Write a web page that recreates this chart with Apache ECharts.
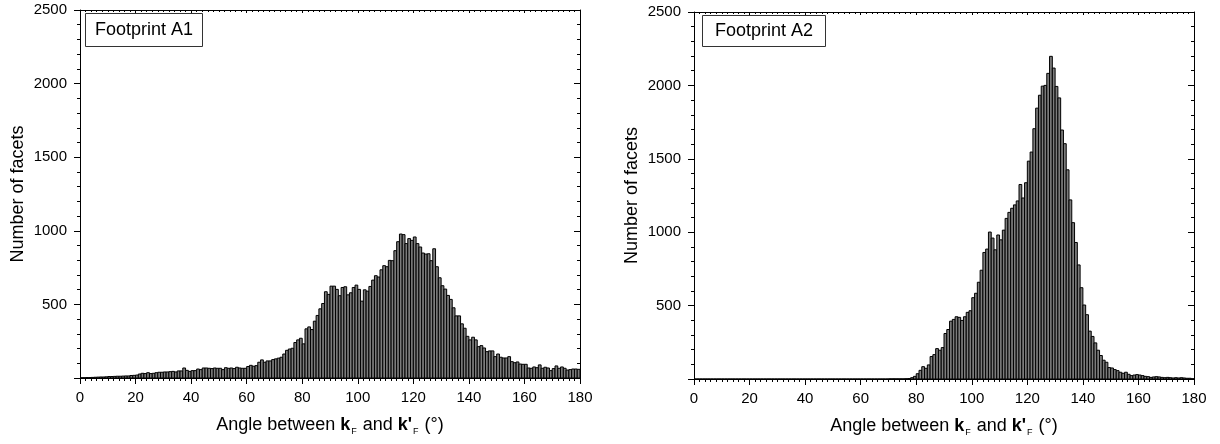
<!DOCTYPE html>
<html>
<head>
<meta charset="utf-8">
<script src="https://cdn.jsdelivr.net/npm/echarts@6/dist/echarts.min.js"></script>
<style>
html,body{margin:0;padding:0;background:#fff;}
#chart{width:1220px;height:444px;}
</style>
</head>
<body>
<div id="chart"></div>
<script>
// Bin start angles (degrees), 1-degree bins from 0 to 179
const binStarts = Array.from({length: 180}, (_, i) => i);

// Footprint A1 counts per 1° bin
const countsA1 = [
  2, 2, 3, 3, 4, 5, 6, 7, 7, 8,
  10, 10, 11, 12, 12, 13, 14, 14, 17, 18,
  20, 27, 32, 30, 36, 30, 32, 36, 39, 39,
  41, 41, 43, 45, 41, 48, 48, 68, 52, 45,
  50, 50, 61, 57, 68, 68, 66, 64, 68, 66,
  66, 57, 70, 66, 68, 64, 73, 68, 66, 66,
  78, 86, 80, 84, 107, 123, 107, 116, 116, 125,
  130, 135, 141, 163, 188, 197, 202, 241, 259, 270,
  232, 334, 347, 329, 386, 425, 470, 506, 586, 568,
  624, 624, 602, 559, 615, 620, 565, 579, 615, 631,
  602, 522, 599, 590, 622, 665, 695, 686, 735, 763,
  756, 799, 797, 865, 926, 978, 974, 913, 947, 935,
  958, 913, 890, 849, 842, 844, 797, 878, 756, 681,
  627, 604, 561, 534, 477, 422, 422, 368, 338, 283,
  259, 277, 259, 213, 220, 204, 179, 184, 184, 145,
  163, 141, 136, 136, 145, 111, 104, 109, 95, 93,
  93, 68, 66, 75, 70, 89, 66, 73, 68, 50,
  64, 82, 66, 75, 66, 54, 57, 61, 61, 59
];

// Footprint A2 counts per 1° bin
const countsA2 = [
  0, 0, 0, 0, 0, 0, 0, 0, 0, 0,
  0, 0, 0, 0, 0, 0, 0, 0, 0, 0,
  0, 0, 0, 0, 0, 0, 0, 0, 0, 0,
  0, 0, 0, 0, 0, 0, 0, 0, 0, 0,
  0, 0, 0, 0, 0, 0, 0, 0, 0, 0,
  0, 0, 0, 0, 0, 0, 0, 0, 0, 0,
  0, 0, 0, 0, 0, 0, 0, 0, 0, 0,
  1, 1, 1, 1, 1, 1, 2, 3, 9, 18,
  36, 59, 84, 73, 96, 153, 166, 207, 196, 214,
  310, 337, 394, 406, 424, 420, 399, 424, 454, 465,
  554, 584, 659, 741, 862, 885, 1001, 960, 880, 981,
  948, 1014, 1094, 1135, 1163, 1186, 1213, 1325, 1233, 1337,
  1484, 1546, 1705, 1845, 1933, 1995, 2000, 2082, 2198, 2118,
  1993, 1915, 1696, 1603, 1425, 1220, 1065, 930, 777, 622,
  504, 438, 326, 290, 246, 196, 160, 128, 114, 78,
  75, 64, 57, 46, 39, 46, 32, 23, 27, 30,
  27, 23, 18, 16, 11, 14, 16, 14, 11, 9,
  11, 9, 7, 9, 7, 9, 7, 5, 5, 2
];

const panelLabels = ['Footprint A1', 'Footprint A2'];
const xTickValues = [0, 20, 40, 60, 80, 100, 120, 140, 160, 180];
const yTickValues = [500, 1000, 1500, 2000, 2500];
const binWidth = 1;

const FONT = 'Arial, "Liberation Sans", Helvetica, sans-serif';

const chart = echarts.init(document.getElementById('chart'), null, {renderer: 'canvas'});

function renderBin(params, api) {
  const x0 = api.value(0);
  const v = api.value(1);
  const pBase = api.coord([x0, 0]);
  const pTop = api.coord([x0 + binWidth, v]);
  return {
    type: 'rect',
    shape: {x: pBase[0], y: pTop[1], width: pTop[0] - pBase[0], height: pBase[1] - pTop[1]},
    style: {fill: '#7c7c7c', stroke: '#000', lineWidth: 1}
  };
}

const xName = '{n|Angle between }{b|k}{s|F}{n| and }{b|k\'}{s|F}{n| (°)}';
const nameRich = {
  n: {fontSize: 18, fontFamily: FONT, color: '#000', lineHeight: 22, verticalAlign: 'middle'},
  b: {fontSize: 18, fontFamily: FONT, color: '#000', fontWeight: 'bold', lineHeight: 22, verticalAlign: 'middle'},
  s: {fontSize: 9, fontFamily: FONT, color: '#000', lineHeight: 9, verticalAlign: 'bottom', padding: [0, 1, 0, 1]}
};

const grids = [
  {left: 80, right: 640, top: 10, bottom: 66},
  {left: 694, right: 26, top: 12, bottom: 65}
];

const xAxes = [], yAxes = [], series = [], titles = [];
const boxCfg = [
  {left: 85, top: 13, padding: [8, 10]},
  {left: 702, top: 15, padding: [7, 13]}
];

[countsA1, countsA2].forEach((counts, gi) => {
  const xBase = {
    type: 'value', gridIndex: gi, min: xTickValues[0], max: xTickValues[xTickValues.length - 1],
    interval: 20, splitLine: {show: false},
    axisLine: {show: true, onZero: false, lineStyle: {color: '#000', width: 1}}
  };
  xAxes.push(Object.assign({}, xBase, {
    position: 'bottom',
    axisTick: {show: true, inside: false, length: 6, lineStyle: {color: '#000'}},
    minorTick: {show: true, splitNumber: 10, length: 3, lineStyle: {color: '#000'}},
    axisLabel: {show: true, color: '#000', fontSize: 15, fontFamily: FONT, margin: 12},
    name: xName, nameLocation: 'middle', nameGap: 36,
    nameTextStyle: {rich: nameRich}
  }));
  xAxes.push(Object.assign({}, xBase, {
    position: 'top',
    axisTick: {show: true, inside: true, length: 3, lineStyle: {color: '#000'}},
    minorTick: {show: true, splitNumber: 10, length: 2, lineStyle: {color: '#000'}},
    axisLabel: {show: false}
  }));
  const yBase = {
    type: 'value', gridIndex: gi, min: 0, max: yTickValues[yTickValues.length - 1], interval: 500,
    splitLine: {show: false},
    axisLine: {show: true, onZero: false, lineStyle: {color: '#000', width: 1}}
  };
  yAxes.push(Object.assign({}, yBase, {
    position: 'left',
    axisTick: {show: true, inside: false, length: 6, lineStyle: {color: '#000'}},
    minorTick: {show: true, splitNumber: 5, length: 3, lineStyle: {color: '#000'}},
    axisLabel: {show: true, color: '#000', fontSize: 15, fontFamily: FONT, margin: 13,
      formatter: v => (yTickValues.indexOf(v) >= 0 ? String(v) : '')},
    name: 'Number of facets', nameLocation: 'middle', nameGap: 53,
    nameTextStyle: {fontSize: 18, fontFamily: FONT, color: '#000'}
  }));
  yAxes.push(Object.assign({}, yBase, {
    position: 'right',
    axisTick: {show: true, inside: true, length: 6, lineStyle: {color: '#000'}},
    minorTick: {show: true, splitNumber: 5, length: 3, lineStyle: {color: '#000'}},
    axisLabel: {show: false}
  }));
  series.push({
    type: 'custom', xAxisIndex: gi * 2, yAxisIndex: gi * 2,
    renderItem: renderBin, silent: true, clip: true,
    encode: {x: 0, y: 1},
    data: binStarts.map((b, i) => [b, counts[i]])
  });
  titles.push({
    text: panelLabels[gi], left: boxCfg[gi].left, top: boxCfg[gi].top,
    padding: boxCfg[gi].padding, borderColor: '#333', borderWidth: 1, backgroundColor: '#fff',
    textStyle: {fontSize: 18, fontWeight: 'normal', fontFamily: FONT, color: '#000', lineHeight: 18}
  });
});

chart.setOption({
  animation: false,
  backgroundColor: '#fff',
  title: titles,
  grid: grids,
  xAxis: xAxes,
  yAxis: yAxes,
  series: series
});
</script>
</body>
</html>
